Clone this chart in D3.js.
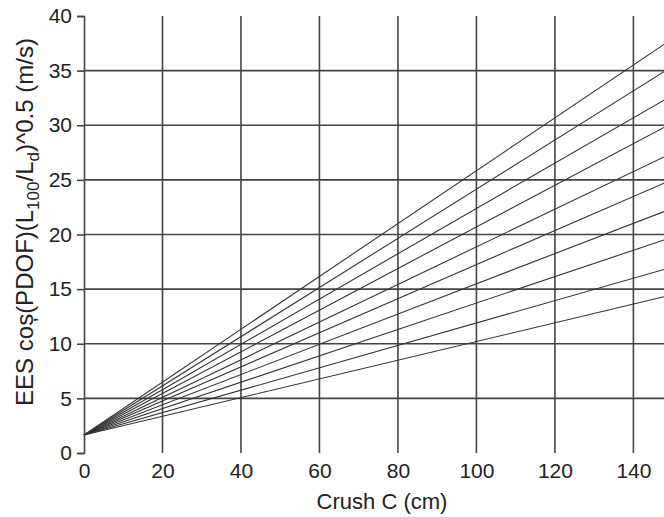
<!DOCTYPE html>
<html>
<head>
<meta charset="utf-8">
<script src="https://cdn.jsdelivr.net/npm/d3@7"></script>
<style>
  body { margin: 0; background: #fff; }
  text { font-family: "Liberation Sans", Arial, sans-serif; fill: #222; }
</style>
</head>
<body>
<svg id="chart" width="664" height="517"></svg>
<script>
// crush values (cm) where each line is read
var crushPts = [0, 147.8];
// start value shared by all lines, end values read at right edge
var startVal = 1.65;
var endVals = [37.4, 34.9, 32.3, 29.8, 27.1, 24.7, 22.1, 19.5, 16.8, 14.3];
var xTicks = [0, 20, 40, 60, 80, 100, 120, 140];
var yTicks = [0, 5, 10, 15, 20, 25, 30, 35, 40];

var margin = {top: 16, right: 0, bottom: 64, left: 84},
    width = 664 - margin.left - margin.right,
    height = 517 - margin.top - margin.bottom;

var svg = d3.select("#chart");
var g = svg.append("g").attr("transform", "translate(" + margin.left + "," + margin.top + ")");

var x = d3.scaleLinear().domain([0, 147.8]).range([0, width]);
var y = d3.scaleLinear().domain([0, 40]).range([height, 0]);

// ========== grid
g.append("g").attr("class", "grid")
  .selectAll("line")
  .data(xTicks.slice(1))
  .enter().append("line")
    .attr("x1", function(d) { return x(d); })
    .attr("x2", function(d) { return x(d); })
    .attr("y1", y(0))
    .attr("y2", y(40))
    .attr("stroke", "#444")
    .attr("stroke-width", 1.6);

g.append("g").attr("class", "grid")
  .selectAll("line")
  .data(yTicks.filter(function(d) { return d > 0 && d < 40; }))
  .enter().append("line")
    .attr("x1", 0)
    .attr("x2", width)
    .attr("y1", function(d) { return y(d); })
    .attr("y2", function(d) { return y(d); })
    .attr("stroke", "#444")
    .attr("stroke-width", 1.6);

// ========== axes
var yAxis = g.append("g")
  .call(d3.axisLeft(y).tickValues(yTicks).tickSize(7).tickPadding(5));
yAxis.select(".domain").attr("stroke", "#444").attr("stroke-width", 1.6);
yAxis.selectAll(".tick line").attr("stroke", "#444").attr("stroke-width", 1.6);
yAxis.selectAll("text").style("font-size", "21px").attr("fill", "#222")
  .attr("font-family", "Liberation Sans, Arial, sans-serif");

var xAxis = g.append("g")
  .attr("transform", "translate(0," + height + ")")
  .call(d3.axisBottom(x).tickValues(xTicks).tickSize(0).tickPadding(10));
xAxis.select(".domain").remove();
xAxis.selectAll("text").style("font-size", "21px").attr("fill", "#222")
  .attr("font-family", "Liberation Sans, Arial, sans-serif");

// ========== lines
var line = d3.line()
  .x(function(d) { return x(d[0]); })
  .y(function(d) { return y(d[1]); });

g.append("g")
  .selectAll("path")
  .data(endVals)
  .enter().append("path")
    .attr("d", function(v) { return line([[crushPts[0], startVal], [crushPts[1], v]]); })
    .attr("fill", "none")
    .attr("stroke", "#333")
    .attr("stroke-width", 1.1);

// ========== labels
svg.append("text")
  .attr("x", 382)
  .attr("y", 509)
  .attr("text-anchor", "middle")
  .style("font-size", "22px")
  .text("Crush C (cm)");

var yl = svg.append("text")
  .attr("transform", "translate(33,222) rotate(-90)")
  .attr("text-anchor", "middle")
  .style("font-size", "24px");
yl.append("tspan").text("EES coș(PDOF)(L");
yl.append("tspan").attr("dy", 6).style("font-size", "17px").text("100");
yl.append("tspan").attr("dy", -6).text("/L");
yl.append("tspan").attr("dy", 6).style("font-size", "17px").text("d");
yl.append("tspan").attr("dy", -6).text(")^0.5 (m/s)");
</script>
</body>
</html>
